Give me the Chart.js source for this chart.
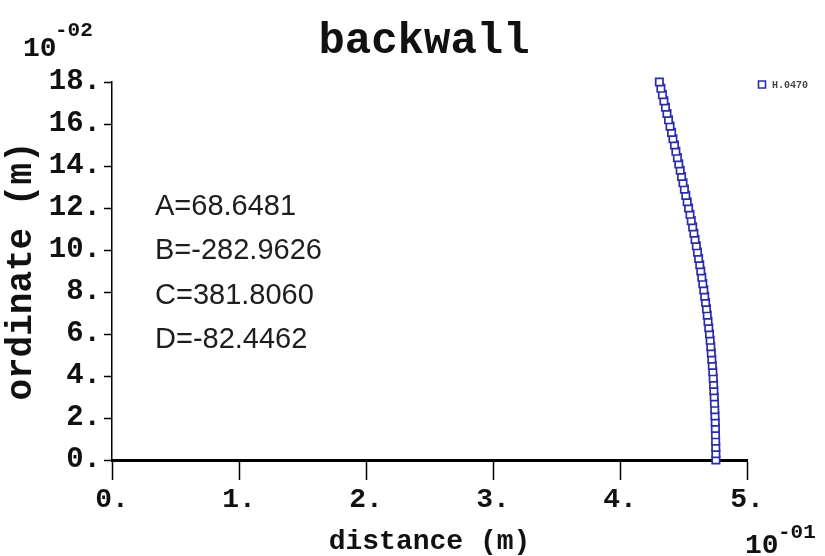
<!DOCTYPE html>
<html>
<head>
<meta charset="utf-8">
<script src="https://cdn.jsdelivr.net/npm/chart.js@4.4.1/dist/chart.umd.min.js"></script>
<style>
  html, body { margin: 0; padding: 0; background: #ffffff; }
  #wrap { width: 825px; height: 556px; }
</style>
</head>
<body>
<div id="wrap"><canvas id="c" width="825" height="556"></canvas></div>
<script>
// ordinate values, in units of 1e-2 m
const ordinate = [0.0, 0.3, 0.6, 0.9, 1.2, 1.5, 1.8, 2.1, 2.4, 2.7, 3.0, 3.3, 3.6, 3.9, 4.2, 4.5, 4.8, 5.1, 5.4, 5.7,
  6.0, 6.3, 6.6, 6.9, 7.2, 7.5, 7.8, 8.1, 8.4, 8.7, 9.0, 9.3, 9.6, 9.9, 10.2, 10.5, 10.8, 11.1, 11.4, 11.7,
  12.0, 12.3, 12.6, 12.9, 13.2, 13.5, 13.8, 14.1, 14.4, 14.7, 15.0, 15.3, 15.6, 15.9, 16.2, 16.5, 16.8, 17.1, 17.4, 17.7, 18.0];
// distance values, in units of 1e-1 m
const distance = [4.755, 4.755, 4.754, 4.753, 4.752, 4.751, 4.750, 4.748, 4.746, 4.744, 4.742, 4.739, 4.737, 4.734, 4.731, 4.727, 4.723, 4.719, 4.715, 4.710,
  4.705, 4.699, 4.693, 4.687, 4.681, 4.674, 4.667, 4.660, 4.652, 4.644, 4.636, 4.628, 4.619, 4.610, 4.601, 4.591, 4.582, 4.572, 4.561, 4.551,
  4.540, 4.529, 4.518, 4.507, 4.496, 4.485, 4.474, 4.463, 4.452, 4.440, 4.429, 4.417, 4.406, 4.394, 4.382, 4.370, 4.358, 4.346, 4.334, 4.322, 4.310];
const seriesName = 'H.0470';
const chartTitle = 'backwall';
const xTitle = 'distance (m)';
const yTitle = 'ordinate (m)';
const xExponent = '-01';
const yExponent = '-02';
const coefficients = ['A=68.6481', 'B=-282.9626', 'C=381.8060', 'D=-82.4462'];
const xTicks = [0, 1, 2, 3, 4, 5];
const yTicks = [0, 2, 4, 6, 8, 10, 12, 14, 16, 18];

const MONO = "'Liberation Mono', 'Courier New', monospace";
const markerColor = '#2c2ca8';

const points = ordinate.map((y, i) => ({ x: distance[i], y: y }));

const overlay = {
  id: 'overlay',
  afterDraw(chart) {
    const ctx = chart.ctx;
    ctx.save();
    ctx.fillStyle = '#111';
    // title
    ctx.font = 'bold 44px ' + MONO;
    ctx.textAlign = 'center';
    ctx.textBaseline = 'alphabetic';
    ctx.fillText(chartTitle, 424, 53);
    // y exponent
    ctx.textAlign = 'left';
    ctx.font = 'bold 28px ' + MONO;
    ctx.fillText('10', 23, 56);
    ctx.font = 'bold 21px ' + MONO;
    ctx.fillText(yExponent, 55, 36);
    // x exponent
    ctx.font = 'bold 28px ' + MONO;
    ctx.fillText('10', 745, 553);
    ctx.font = 'bold 21px ' + MONO;
    ctx.fillText(xExponent, 778, 538);
    // coefficients
    ctx.font = "29px 'Liberation Sans', Arial, sans-serif";
    ctx.fillStyle = '#1e1e1e';
    const base = [215, 259, 304, 348];
    coefficients.forEach((t, i) => ctx.fillText(t, 155, base[i]));
    // legend
    ctx.strokeStyle = markerColor;
    ctx.lineWidth = 1.6;
    ctx.fillStyle = '#fff';
    ctx.beginPath();
    ctx.rect(758.5, 81, 7, 7);
    ctx.fill();
    ctx.stroke();
    ctx.fillStyle = '#444';
    ctx.font = 'bold 10px ' + MONO;
    ctx.textBaseline = 'middle';
    ctx.fillText(seriesName, 772, 85);
    ctx.restore();
  }
};

new Chart(document.getElementById('c'), {
  type: 'scatter',
  data: {
    datasets: [{
      label: seriesName,
      data: points,
      pointStyle: 'rect',
      pointRadius: 5.2,
      pointHoverRadius: 5.2,
      pointBorderWidth: 1.7,
      borderColor: markerColor,
      backgroundColor: '#ffffff',
      showLine: false,
      clip: false
    }]
  },
  options: {
    responsive: false,
    animation: false,
    events: [],
    layout: { padding: { top: 82, right: 78, left: 0, bottom: 0 } },
    plugins: {
      legend: { display: false },
      title: { display: false },
      tooltip: { enabled: false }
    },
    scales: {
      x: {
        type: 'linear',
        min: 0,
        max: 5,
        position: 'bottom',
        afterFit(s) { s.height = 96; },
        afterBuildTicks(s) { s.ticks = xTicks.map(v => ({ value: v })); },
        border: { display: true, color: '#000', width: 3 },
        grid: { drawOnChartArea: false, drawTicks: true, tickLength: 20, tickWidth: 1.5, tickColor: '#000' },
        ticks: {
          autoSkip: false,
          maxRotation: 0,
          padding: 3,
          color: '#111',
          font: { family: MONO, size: 28, weight: 'bold' },
          callback: v => v + '.'
        },
        title: {
          display: true,
          text: xTitle,
          color: '#111',
          font: { family: MONO, size: 28, weight: 'bold', lineHeight: 1 },
          padding: { top: 0, bottom: 0 }
        }
      },
      y: {
        type: 'linear',
        min: 0,
        max: 18,
        afterFit(s) { s.width = 112; },
        afterBuildTicks(s) { s.ticks = yTicks.map(v => ({ value: v })); },
        border: { display: true, color: '#000', width: 1.5 },
        grid: { drawOnChartArea: false, drawTicks: true, tickLength: 8, tickWidth: 1.5, tickColor: '#000' },
        ticks: {
          autoSkip: false,
          padding: 3,
          color: '#111',
          font: { family: MONO, size: 29, weight: 'bold' },
          callback: v => v + '.'
        },
        title: {
          display: true,
          text: yTitle,
          color: '#111',
          font: { family: MONO, size: 36, weight: 'bold', lineHeight: 1 },
          padding: { top: 4, bottom: 0 }
        }
      }
    }
  },
  plugins: [overlay]
});
</script>
</body>
</html>
